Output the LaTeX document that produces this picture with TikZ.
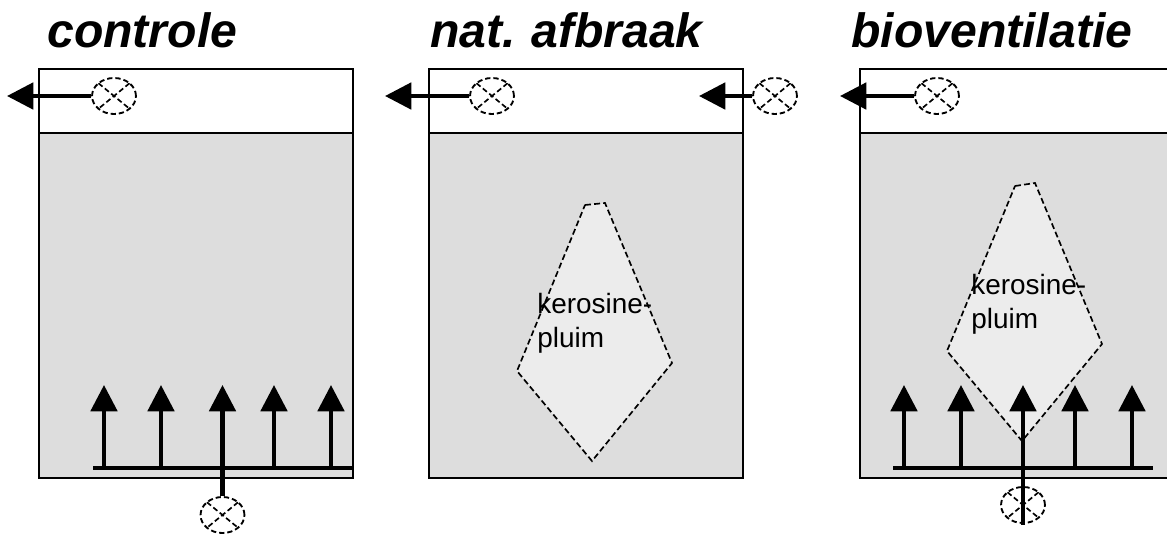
\documentclass[tikz,border=0pt]{standalone}
\usepackage{fontspec}
\setmainfont{Liberation Sans}
\usetikzlibrary{arrows.meta,shapes.geometric}
\definecolor{soilgray}{RGB}{221,221,221}
\definecolor{plumegray}{RGB}{236,236,236}
\tikzset{
    soil/.style={draw,line width=1.1pt,fill=soilgray},
    plume/.style={draw,line width=0.95pt,fill=plumegray,dash pattern=on 3.4pt off 1.8pt},
    flow/.style={line width=2.3pt,-{Triangle[length=15pt,width=15pt]}},
    pipe/.style={line width=2.3pt},
    sensor/.style={ellipse,draw,dash pattern=on 3pt off 1.7pt,line width=1.05pt,minimum width=25pt,minimum height=20.5pt,inner sep=0pt,
        path picture={\draw[dash pattern=on 3pt off 1.7pt,line width=0.95pt]
            (path picture bounding box.north west) -- (path picture bounding box.south east)
            (path picture bounding box.north east) -- (path picture bounding box.south west);}},
    kop/.style={font=\fontsize{27.4}{27.4}\selectfont\bfseries\itshape,anchor=base west,inner sep=0pt},
    tekst/.style={font=\fontsize{15.9}{19.3}\selectfont,align=left,anchor=north west,inner sep=0pt}
}
\begin{document}
\begin{tikzpicture}[x=0.02cm,y=-0.02cm]
    \useasboundingbox (0,0) rectangle (1167,535);

    % Bodemkolommen
    \foreach \xl/\xr in {39/353,429/743,860/1174}{
        \draw[line width=1.1pt,fill=white] (\xl,69) rectangle (\xr,133);
        \draw[soil] (\xl,133) rectangle (\xr,478);
    }

    % Pluimen
    \draw[plume] (585,205) -- (605,203) -- (672,363) -- (592,461) -- (517,371) -- cycle;
    \draw[plume] (1015,186) -- (1035,183) -- (1102,344) -- (1022,441) -- (947,351) -- cycle;
    \node[tekst] (pluimmidden) at (537,293) {kerosine-\\pluim};
    \node[tekst] (pluimrechts) at (971,274) {kerosine-\\pluim};

    % Titels
    \node[kop] (controle) at (47,47) {controle};
    \node[kop] (afbraak) at (430,47) {nat.\hspace{0.32em}afbraak};
    \node[kop] (bioventilatie) at (851,47) {bioventilatie};

    % Afzuiging boven
    \node[sensor] (zuig1) at (114,96) {};
    \node[sensor] (zuig2) at (492,96) {};
    \node[sensor] (toevoer2) at (775,96) {};
    \node[sensor] (zuig3) at (937,96) {};
    \coordinate (uit1) at (7,96);
    \coordinate (uit2) at (385,96);
    \coordinate (uit2b) at (699,96);
    \coordinate (uit3) at (840,96);
    \draw[flow] (zuig1) -- (uit1);
    \draw[flow] (zuig2) -- (uit2);
    \draw[flow] (toevoer2) -- (uit2b);
    \draw[flow] (zuig3) -- (uit3);

    % Injectie onder
    \node[sensor] (pomp1) at (222.5,515) {};
    \node[sensor] (pomp3) at (1023,505) {};
    \coordinate (balk1a) at (93,468);
    \coordinate (balk1b) at (353,468);
    \coordinate (balk3a) at (893,468);
    \coordinate (balk3b) at (1153,468);
    \draw[pipe] (balk1a) -- (balk1b);
    \draw[pipe] (balk3a) -- (balk3b);
    \foreach \x in {104,161,222.5,274,331,904,961,1023,1075,1132}{
        \coordinate (voet) at (\x,468);
        \coordinate (top) at (\x,385);
        \draw[flow] (voet) -- (top);
    }
    \coordinate (kruis1) at (222.5,468);
    \coordinate (kruis3) at (1023,468);
    \coordinate (eind3) at (1023,525);
    \draw[pipe] (kruis1) -- (pomp1);
    \draw[pipe] (kruis3) -- (eind3);

\end{tikzpicture}
\end{document}
